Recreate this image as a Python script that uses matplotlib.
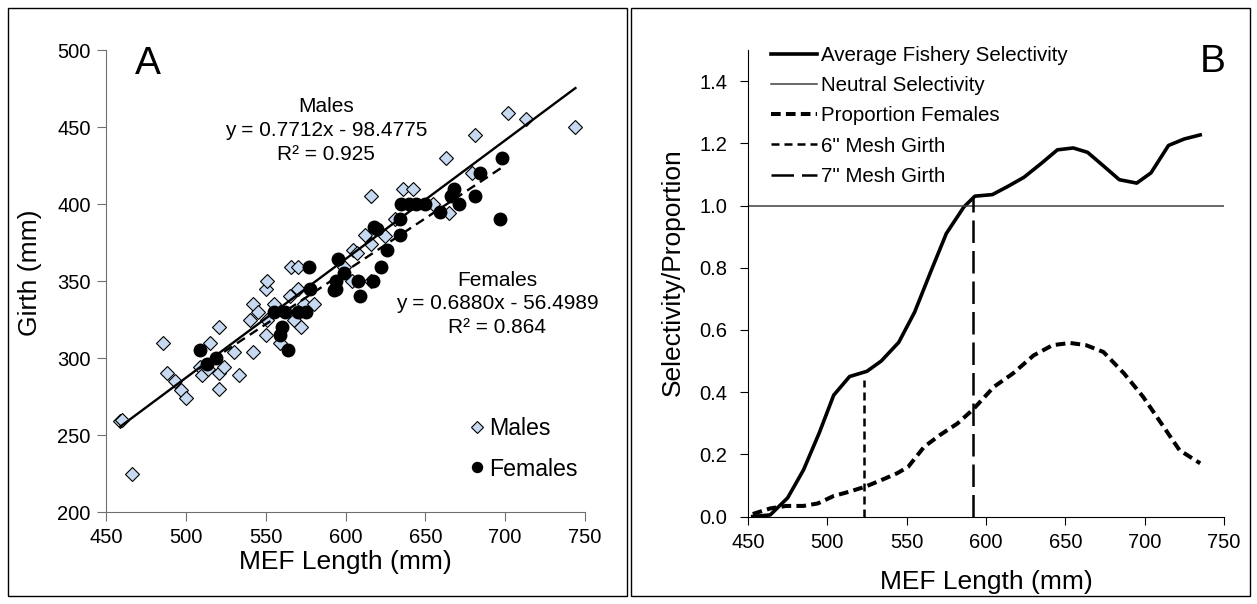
import numpy as np
import matplotlib.pyplot as plt
from matplotlib.patches import Rectangle

plt.rcParams['font.family'] = ['Liberation Sans', 'DejaVu Sans']

# panel A data: MEF length vs girth
male_len = [459, 460, 466, 486, 488, 493, 497, 500, 509, 510, 514, 515, 521, 521, 521,
            524, 530, 533, 540, 542, 542, 545, 550, 550, 551, 551, 555, 559, 565, 566,
            568, 570, 570, 572, 574, 580, 599, 604, 605, 607, 612, 616, 616, 616, 625,
            631, 636, 642, 655, 663, 665, 679, 681, 702, 713, 744]
male_girth = [259, 260, 225, 310, 290, 285, 279, 274, 294, 289, 293, 310, 320, 290, 280,
              294, 304, 289, 325, 304, 335, 330, 345, 315, 325, 350, 335, 310, 340, 359,
              325, 345, 359, 320, 335, 335, 359, 350, 370, 368, 380, 405, 374, 350, 379,
              390, 410, 410, 400, 430, 394, 420, 445, 459, 455, 450]
female_len = [509, 513, 519, 555, 559, 560, 562, 564, 570, 575, 577, 578, 593, 594, 594,
              595, 599, 608, 609, 617, 618, 620, 622, 626, 634, 634, 635, 640, 644, 650,
              659, 666, 668, 671, 681, 684, 697, 698]
female_girth = [305, 296, 300, 330, 315, 320, 330, 305, 330, 330, 359, 345, 344, 350, 345,
                364, 355, 350, 340, 350, 385, 384, 359, 370, 380, 390, 400, 400, 400, 400,
                395, 405, 410, 400, 405, 420, 390, 430]

male_fit_x = [459, 744]
female_fit_x = [508, 698]

# panel B data
sel_len = [453, 464, 475, 485, 495, 504, 514, 525, 534, 545, 555, 565, 575, 586, 593,
           604, 614, 624, 635, 645, 655, 664, 675, 684, 695, 704, 715, 725, 735]
selectivity = [0.0, 0.005, 0.06, 0.15, 0.27, 0.39, 0.45, 0.467, 0.50, 0.56, 0.657,
               0.785, 0.91, 0.995, 1.03, 1.035, 1.062, 1.091, 1.136, 1.179, 1.185,
               1.171, 1.123, 1.083, 1.072, 1.105, 1.193, 1.214, 1.227]
fem_len = [453, 464, 474, 485, 494, 504, 514, 524, 534, 544, 551, 561, 571, 582, 592,
           605, 617, 630, 642, 653, 663, 674, 687, 699, 712, 722, 735]
prop_females = [0.008, 0.026, 0.034, 0.034, 0.042, 0.066, 0.08, 0.096, 0.117, 0.139,
                0.16, 0.224, 0.262, 0.299, 0.345, 0.417, 0.46, 0.518, 0.551, 0.558,
                0.551, 0.529, 0.46, 0.385, 0.288, 0.213, 0.171]
mesh6 = 523
mesh7 = 592
mesh6_top = 0.44
mesh7_top = 1.03

W, H = 1257, 604
fig = plt.figure(figsize=(W / 100, H / 100), dpi=100)

def box(l, t, r, b):
    return [l / W, 1 - b / H, (r - l) / W, (b - t) / H]

# frames around the two panels
for l, t, r, b in [(8, 8, 627, 596), (631, 8, 1250, 596)]:
    fig.add_artist(Rectangle((l / W, 1 - b / H), (r - l) / W, (b - t) / H,
                             transform=fig.transFigure, fill=False, lw=1, ec='black'))

TICK = 14.5
LAB = 19

axA = fig.add_axes(box(106, 50, 585, 512))
axA.plot(male_len, male_girth, 'D', ms=7.5, mfc='#C6D9F1', mec='black', mew=0.8,
         ls='none', label='Males', zorder=3)
axA.plot(female_len, female_girth, 'o', ms=9, mfc='black', mec='black',
         ls='none', label='Females', zorder=3)
mx = np.array(male_fit_x)
fx = np.array(female_fit_x)
axA.plot(mx, 0.7712 * mx - 98.4775, color='black', lw=1.7, zorder=4)
axA.plot(fx, 0.6880 * fx - 56.4989, color='black', lw=1.7, ls=(0, (4, 2.5)), zorder=4)
axA.text(588, 463, 'Males', ha='center', va='center', fontsize=15)
axA.text(588, 448, 'y = 0.7712x - 98.4775', ha='center', va='center', fontsize=15)
axA.text(588, 432, 'R² = 0.925', ha='center', va='center', fontsize=15)
axA.text(695, 350.5, 'Females', ha='center', va='center', fontsize=15)
axA.text(695, 335.5, 'y = 0.6880x - 56.4989', ha='center', va='center', fontsize=15)
axA.text(695, 319.5, 'R² = 0.864', ha='center', va='center', fontsize=15)
axA.text(476.5, 491, 'A', ha='center', va='center', fontsize=28)
axA.set_xlim(450, 750)
axA.set_ylim(200, 500)
axA.set_xticks(np.arange(450, 751, 50))
axA.set_yticks(np.arange(200, 501, 50))
axA.set_xlabel('MEF Length (mm)', fontsize=LAB)
axA.set_ylabel('Girth (mm)', fontsize=LAB)
axA.xaxis.label.set_va('center')
axA.yaxis.label.set_va('center')
axA.xaxis.set_label_coords(0.5, -0.108)
axA.yaxis.set_label_coords(-0.159, 0.518)
axA.legend(loc='center left', bbox_to_anchor=(468 / W, 1 - 449 / H),
           bbox_transform=fig.transFigure, frameon=False, fontsize=16.7,
           handlelength=0.8, handletextpad=0.1, markerscale=0.8,
           labelspacing=0.74, borderpad=0, borderaxespad=0)
for s in ['top', 'right']:
    axA.spines[s].set_visible(False)
for s in ['left', 'bottom']:
    axA.spines[s].set_color('#707070')
axA.tick_params(labelsize=TICK, length=6.5, color='#707070')
axA.tick_params(axis='y', pad=4.5)
axA.tick_params(axis='x', pad=5)

axB = fig.add_axes(box(748, 50, 1224, 516.5))
axB.plot(sel_len, selectivity, color='black', lw=2.6, label='Average Fishery Selectivity')
axB.plot([450, 750], [1, 1], color='#404040', lw=1.1, label='Neutral Selectivity')
axB.plot(fem_len, prop_females, color='black', lw=2.9, ls=(0, (2.4, 1.3)),
         label='Proportion Females')
axB.plot([mesh6, mesh6], [0, mesh6_top], color='black', lw=1.8, ls=(0, (3.2, 2)),
         label='6" Mesh Girth')
axB.plot([mesh7, mesh7], [0, mesh7_top], color='black', lw=1.8, ls=(0, (9, 3.2)),
         label='7" Mesh Girth')
axB.text(743, 1.46, 'B', ha='center', va='center', fontsize=28)
axB.set_xlim(450, 750)
axB.set_ylim(0, 1.5)
axB.set_xticks(np.arange(450, 751, 50))
axB.set_yticks(np.arange(0, 1.41, 0.2))
axB.set_yticklabels(['%.1f' % v for v in np.arange(0, 1.41, 0.2)])
axB.set_xlabel('MEF Length (mm)', fontsize=LAB)
axB.set_ylabel('Selectivity/Proportion', fontsize=LAB)
axB.xaxis.label.set_va('center')
axB.yaxis.label.set_va('center')
axB.xaxis.set_label_coords(0.5, -0.14)
axB.yaxis.set_label_coords(-0.158, 0.523)
axB.legend(loc='center left', bbox_to_anchor=(771 / W, 1 - 116 / H),
           bbox_transform=fig.transFigure, frameon=False, fontsize=14.8,
           handlelength=2.23, handletextpad=0.2, labelspacing=0.54,
           borderpad=0, borderaxespad=0)
for s in ['top', 'right']:
    axB.spines[s].set_visible(False)
axB.tick_params(labelsize=TICK, length=6)
axB.tick_params(axis='y', pad=9)
axB.tick_params(axis='x', pad=6)

fig.savefig('out.png', dpi=100)
